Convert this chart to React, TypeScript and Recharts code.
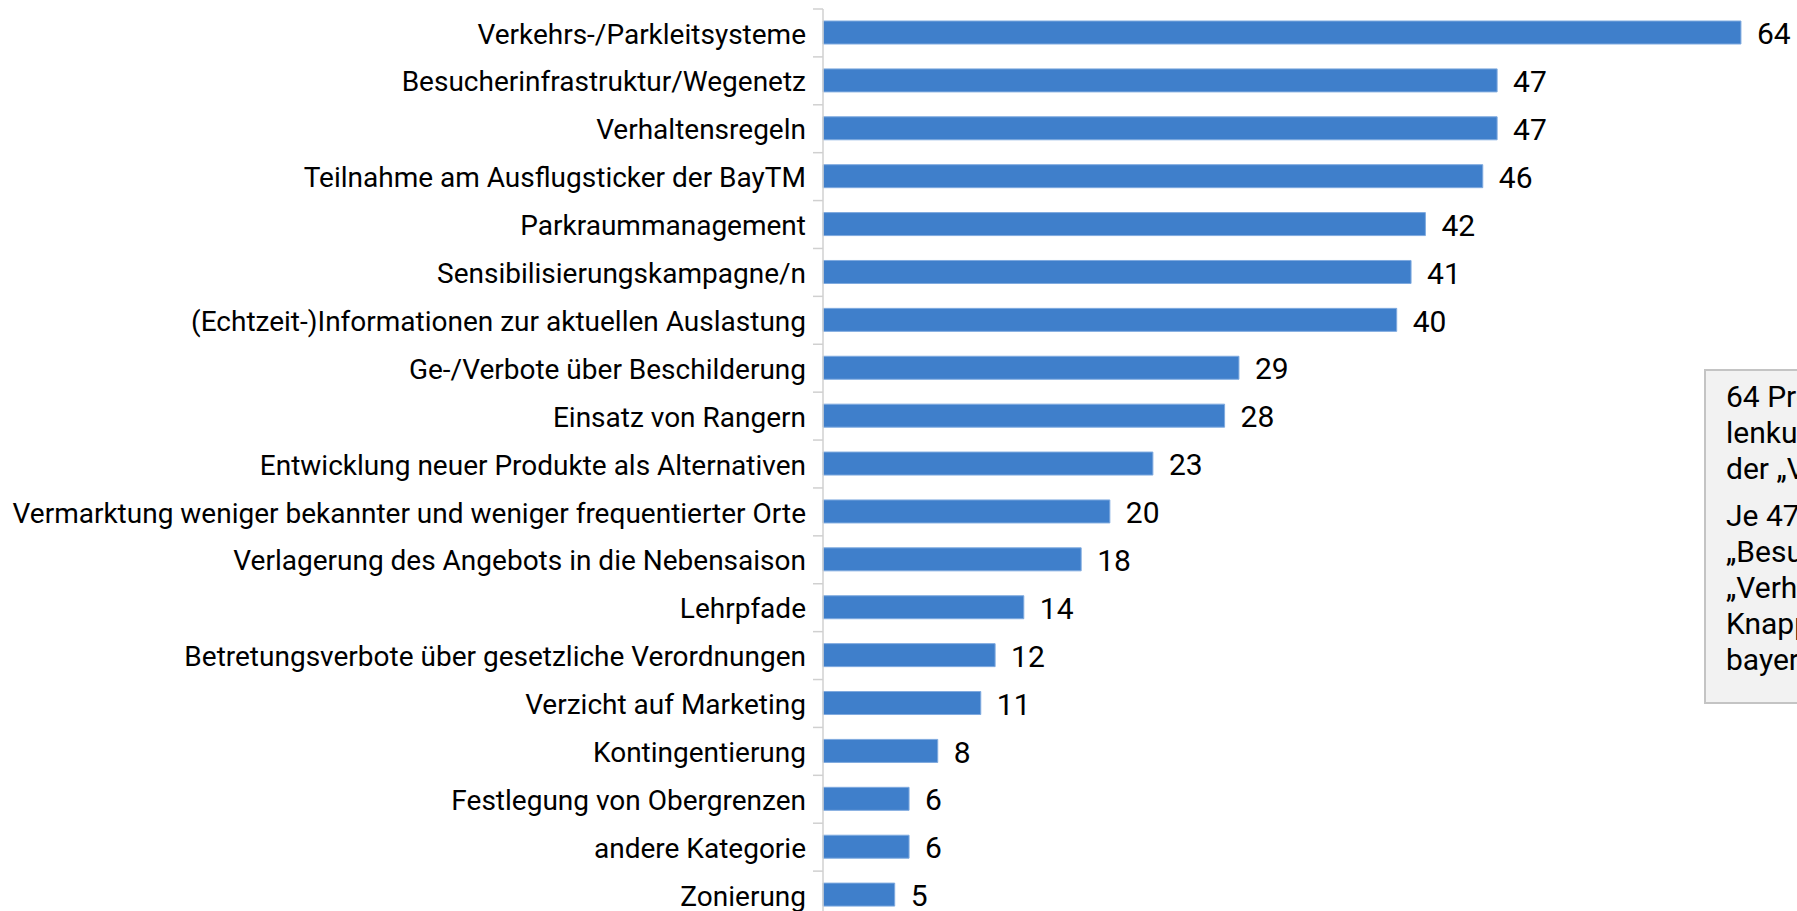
import { BarChart, Bar, XAxis, YAxis, LabelList } from 'recharts';

const categories = [
  'Verkehrs-/Parkleitsysteme',
  'Besucherinfrastruktur/Wegenetz',
  'Verhaltensregeln',
  'Teilnahme am Ausflugsticker der BayTM',
  'Parkraummanagement',
  'Sensibilisierungskampagne/n',
  '(Echtzeit-)Informationen zur aktuellen Auslastung',
  'Ge-/Verbote über Beschilderung',
  'Einsatz von Rangern',
  'Entwicklung neuer Produkte als Alternativen',
  'Vermarktung weniger bekannter und weniger frequentierter Orte',
  'Verlagerung des Angebots in die Nebensaison',
  'Lehrpfade',
  'Betretungsverbote über gesetzliche Verordnungen',
  'Verzicht auf Marketing',
  'Kontingentierung',
  'Festlegung von Obergrenzen',
  'andere Kategorie',
  'Zonierung',
];

const values = [64, 47, 47, 46, 42, 41, 40, 29, 28, 23, 20, 18, 14, 12, 11, 8, 6, 6, 5];

const noteParagraphs = [
  [
    '64 Prozent der Destinationen nutzen zur Besucher-',
    'lenkung in erster Linie den Einsatz',
    'der „Verkehrs-/Parkleitsysteme“.',
  ],
  [
    'Je 47 Prozent setzen auf',
    '„Besucherinfrastruktur/Wegenetz“ und',
    '„Verhaltensregeln“.',
    'Knapp die Hälfte nimmt am Ausflugsticker der',
    'bayerischen Tourismus Marketing teil.',
  ],
];

const data = categories.map((name, i) => ({ name, value: values[i] }));

const FONT = 'Roboto, "Noto Sans", sans-serif';
const CHART_W = 1827;
const CHART_H = 919;
const AXIS_W = 823;
const MARGIN_TOP = 9;
const BAND = (CHART_H - MARGIN_TOP) / categories.length;

function CategoryTick(props: any) {
  const { x, y, payload } = props;
  return (
    <g>
      <line x1={x - 10} x2={x} y1={y - BAND / 2} y2={y - BAND / 2} stroke="#d0d0d0" strokeWidth={1.5} />
      <text
        x={x - 17}
        y={y}
        dy="0.38em"
        textAnchor="end"
        fill="#000"
        fontSize={28}
        fontFamily={FONT}
      >
        {payload.value}
      </text>
    </g>
  );
}

export default function App() {
  return (
    <div
      style={{
        position: 'absolute',
        left: 0,
        top: 0,
        width: 1797,
        height: 911,
        overflow: 'hidden',
        background: '#fff',
        fontFamily: FONT,
      }}
    >
      <BarChart
        width={CHART_W}
        height={CHART_H}
        data={data}
        layout="vertical"
        margin={{ top: MARGIN_TOP, right: 0, left: 0, bottom: 0 }}
      >
        <XAxis type="number" domain={[0, 70]} hide />
        <YAxis
          type="category"
          dataKey="name"
          width={AXIS_W}
          axisLine={{ stroke: '#d0d0d0', strokeWidth: 1.5 }}
          tickLine={false}
          tickSize={0}
          tickMargin={0}
          interval={0}
          tick={<CategoryTick />}
        />
        <Bar
          dataKey="value"
          fill="#3F7FCB"
          stroke="#7faadf"
          strokeWidth={1}
          barSize={23}
          isAnimationActive={false}
        >
          <LabelList
            dataKey="value"
            position="right"
            offset={16}
            fill="#000"
            fontSize={30}
            fontFamily={FONT}
            dy={1}
          />
        </Bar>
      </BarChart>
      <div
        style={{
          position: 'absolute',
          left: 1704,
          top: 369,
          width: 600,
          height: 335,
          boxSizing: 'border-box',
          background: '#f2f2f2',
          border: '2px solid #c4c4c4',
          padding: '8px 0 0 20px',
          fontSize: 30,
          lineHeight: '36px',
          color: '#000',
          whiteSpace: 'nowrap',
        }}
      >
        {noteParagraphs.map((para, pi) => (
          <div key={pi} style={{ marginBottom: pi === 0 ? 11 : 0 }}>
            {para.map((line, li) => (
              <div key={li}>{line}</div>
            ))}
          </div>
        ))}
      </div>
    </div>
  );
}
